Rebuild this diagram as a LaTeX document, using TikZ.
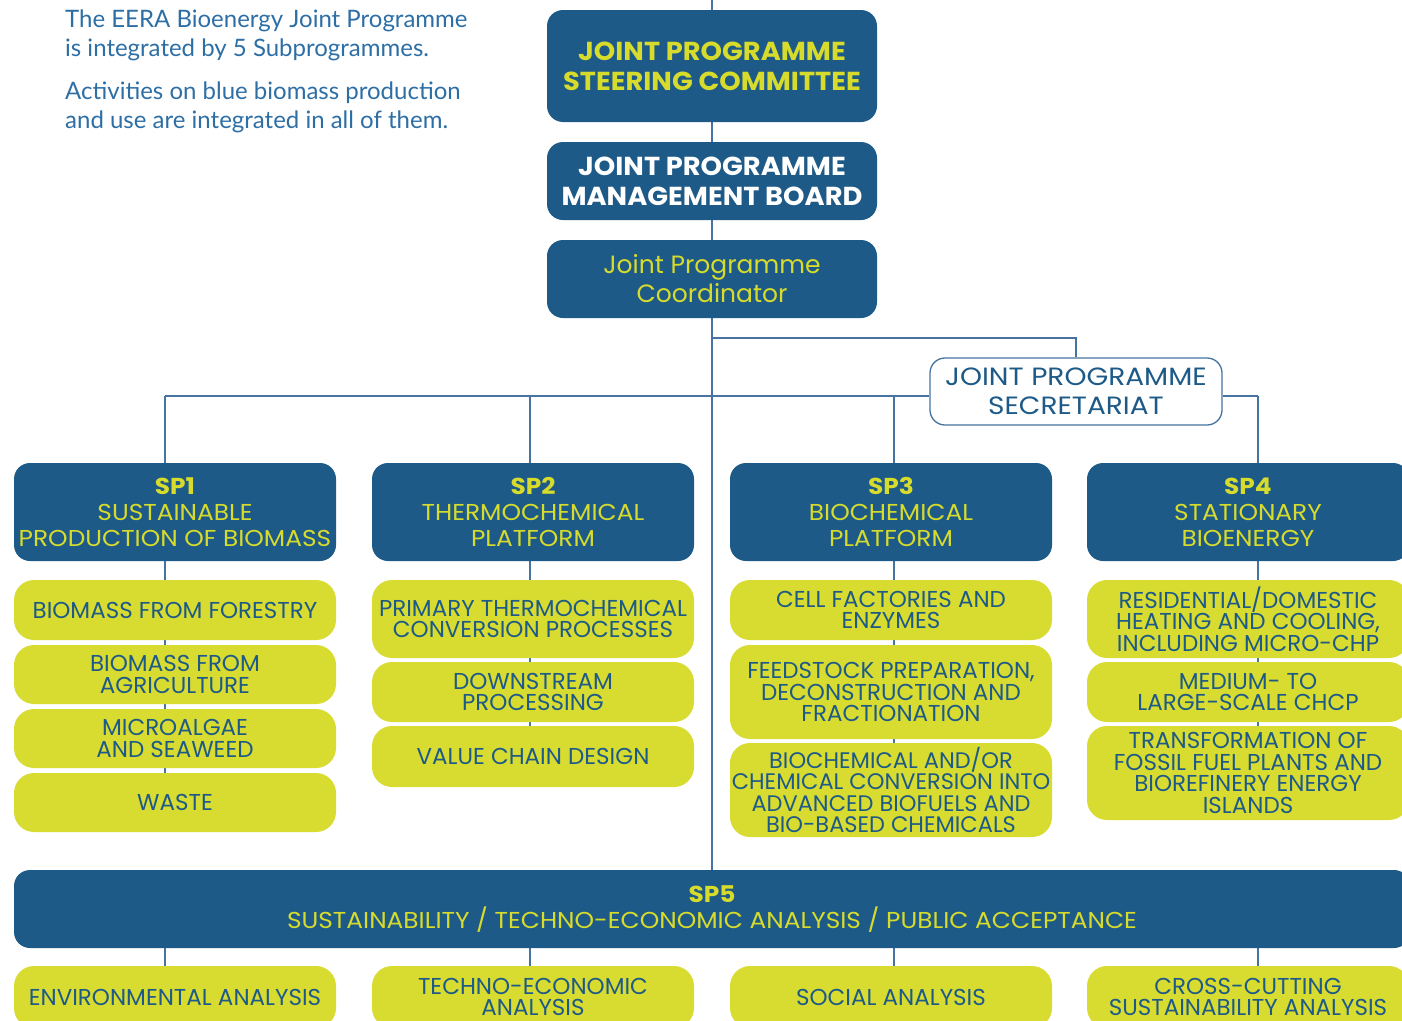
\documentclass[tikz,border=0pt]{standalone}
\usepackage{fontspec}
\setmainfont{Poppins}
\newfontfamily\headfont{Poppins}[FakeStretch=1.05]
\newfontfamily\spfont{Poppins}[FakeStretch=1.08]
\newfontfamily\limefont{Poppins}[FakeStretch=1.0]
\newfontfamily\secfont{Poppins}[FakeStretch=1.12]
\newfontfamily\introfont{Lato}
\usetikzlibrary{backgrounds}
\definecolor{navy}{RGB}{30,90,136}
\definecolor{lime}{RGB}{216,220,48}
\definecolor{limetext}{RGB}{214,219,44}
\definecolor{wirecol}{RGB}{70,115,160}
\definecolor{introblue}{RGB}{45,110,165}
\begin{document}
\begin{tikzpicture}[x=1pt,y=-1pt,
  navybox/.style={fill=navy, rounded corners=16pt, inner sep=0pt, align=center},
  headbox/.style={navybox, minimum width=330pt, font=\headfont\bfseries\fontsize{26}{30}\selectfont},
  spbox/.style={navybox, minimum width=322pt, minimum height=98pt, text=limetext, font=\spfont\fontsize{23}{26}\selectfont},
  limebox/.style={fill=lime, rounded corners=20pt, inner sep=0pt, align=center, minimum width=322pt, text=navy, font=\limefont\fontsize{23}{21.5}\selectfont},
  secbox/.style={fill=white, draw=wirecol, line width=1.3pt, rounded corners=15pt, inner sep=0pt, align=center, minimum width=292pt, minimum height=67pt, text=navy, font=\secfont\fontsize{25}{29}\selectfont},
  introtext/.style={anchor=base west, inner sep=0pt, text=introblue, font=\introfont\fontsize{24}{29}\selectfont},
  wire/.style={draw=wirecol, line width=1.3pt}]
\useasboundingbox (0,0) rectangle (1402,1020);

% intro text
\node[introtext] (i1) at (65,27) {The EERA Bioenergy Joint Programme};
\node[introtext] (i2) at (65,56.5) {is integrated by 5 Subprogrammes.};
\node[introtext] (i3) at (65,99) {Activities on blue biomass production};
\node[introtext] (i4) at (65,128) {and use are integrated in all of them.};

% top chain
\node[headbox, minimum height=112pt, text=limetext] (steer) at (712,66) {JOINT PROGRAMME\\STEERING COMMITTEE};
\node[headbox, minimum height=78pt, text=white] (board) at (712,181) {JOINT PROGRAMME\\MANAGEMENT BOARD};
\node[navybox, minimum width=330pt, minimum height=78pt, text=limetext, font=\limefont\fontsize{25}{29}\selectfont] (coord) at (712,279) {Joint Programme\\Coordinator};
\node[secbox] (sec) at (1076,391.5) {JOINT PROGRAMME\\SECRETARIAT};

% subprogrammes
\node[spbox] (sp1) at (175,512) {\textbf{SP1}\\SUSTAINABLE\\PRODUCTION OF BIOMASS};
\node[spbox] (sp2) at (533,512) {\textbf{SP2}\\THERMOCHEMICAL\\PLATFORM};
\node[spbox] (sp3) at (891,512) {\textbf{SP3}\\BIOCHEMICAL\\PLATFORM};
\node[spbox] (sp4) at (1248,512) {\textbf{SP4}\\STATIONARY\\BIOENERGY};

% SP1 items
\node[limebox, minimum height=60pt] (forest) at (175,610) {BIOMASS FROM FORESTRY};
\node[limebox, minimum height=59pt] (agri) at (175,674.5) {BIOMASS FROM\\AGRICULTURE};
\node[limebox, minimum height=59pt] (algae) at (175,738.5) {MICROALGAE\\AND SEAWEED};
\node[limebox, minimum height=59pt] (waste) at (175,802.5) {WASTE};

% SP2 items
\node[limebox, minimum height=78pt] (primary) at (533,619) {PRIMARY THERMOCHEMICAL\\CONVERSION PROCESSES};
\node[limebox, minimum height=60pt] (down) at (533,692) {DOWNSTREAM\\PROCESSING};
\node[limebox, minimum height=61pt] (vcd) at (533,756.5) {VALUE CHAIN DESIGN};

% SP3 items
\node[limebox, minimum height=60pt] (cell) at (891,610) {CELL FACTORIES AND\\ENZYMES};
\node[limebox, minimum height=94pt] (feed) at (891,692) {FEEDSTOCK PREPARATION,\\DECONSTRUCTION AND\\FRACTIONATION};
\node[limebox, minimum height=94pt, font=\limefont\fontsize{22.5}{21.5}\selectfont] (bioch) at (891,790) {BIOCHEMICAL AND/OR\\CHEMICAL CONVERSION INTO\\ADVANCED BIOFUELS AND\\BIO-BASED CHEMICALS};

% SP4 items
\node[limebox, minimum height=78pt] (resi) at (1248,619) {RESIDENTIAL/DOMESTIC\\HEATING AND COOLING,\\INCLUDING MICRO-CHP};
\node[limebox, minimum height=60pt] (chcp) at (1248,692) {MEDIUM- TO\\LARGE-SCALE CHCP};
\node[limebox, minimum height=94pt] (transf) at (1248,773) {TRANSFORMATION OF\\FOSSIL FUEL PLANTS AND\\BIOREFINERY ENERGY\\ISLANDS};

% SP5
\node[navybox, minimum width=1396pt, minimum height=78pt, text=limetext, font=\spfont\fontsize{23}{26}\selectfont] (sp5) at (712,909) {\textbf{SP5}\\SUSTAINABILITY / TECHNO-ECONOMIC ANALYSIS / PUBLIC ACCEPTANCE};
\node[limebox, minimum height=62pt] (env) at (175,997) {ENVIRONMENTAL ANALYSIS};
\node[limebox, minimum height=62pt] (tea) at (533,997) {TECHNO-ECONOMIC\\ANALYSIS};
\node[limebox, minimum height=62pt] (soc) at (891,997) {SOCIAL ANALYSIS};
\node[limebox, minimum height=62pt] (cross) at (1248,997) {CROSS-CUTTING\\SUSTAINABILITY ANALYSIS};

% connectors
\coordinate (top) at (712,0);
\coordinate (j1) at (712,338);
\coordinate (b1) at (165,396);
\coordinate (b2) at (530,396);
\coordinate (b3) at (894,396);
\coordinate (b4) at (1258,396);
\begin{scope}[on background layer]
\draw[wire] (top) -- (steer);
\draw[wire] (steer) -- (board);
\draw[wire] (board) -- (coord);
\draw[wire] (coord) -- (sp5);
\draw[wire] (j1) -| (sec.north);
\draw[wire] (b1) -- (b1 -| sec.west);
\draw[wire] (b4 -| sec.east) -- (b4);
\draw[wire] (b1) -- (b1 |- waste.north);
\draw[wire] (b2) -- (b2 |- vcd.north);
\draw[wire] (b3) -- (b3 |- bioch.north);
\draw[wire] (b4) -- (b4 |- transf.north);
\draw[wire] (b1 |- sp5.south) -- (b1 |- env.north);
\draw[wire] (b2 |- sp5.south) -- (b2 |- tea.north);
\draw[wire] (b3 |- sp5.south) -- (b3 |- soc.north);
\draw[wire] (b4 |- sp5.south) -- (b4 |- cross.north);
\end{scope}
\end{tikzpicture}
\end{document}
